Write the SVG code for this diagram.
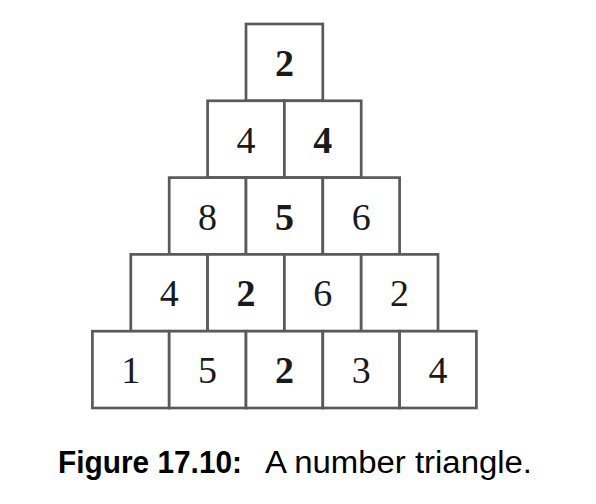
<svg xmlns="http://www.w3.org/2000/svg" width="596" height="504" viewBox="0 0 596 504">
<style>
.box{fill:#fff;stroke:#5a5a5a;stroke-width:2.7}
.n{font-family:"Liberation Serif","DejaVu Serif",serif;font-size:38px;text-anchor:middle;fill:#1a1a1a}
.b{font-weight:bold}
.cap{font-family:"Liberation Sans",Arial,sans-serif;font-size:31px;fill:#000}
</style>
<rect width="596" height="504" fill="#fff"/>
<g id="r0c0"><rect class="box" x="246" y="24" width="76.8" height="76.8"/><text class="n b" x="284.4" y="76">2</text></g>
<g id="r1c0"><rect class="box" x="207.6" y="100.8" width="76.8" height="76.8"/><text class="n" x="246" y="152.8">4</text></g>
<g id="r1c1"><rect class="box" x="284.4" y="100.8" width="76.8" height="76.8"/><text class="n b" x="322.8" y="152.8">4</text></g>
<g id="r2c0"><rect class="box" x="169.2" y="177.6" width="76.8" height="76.8"/><text class="n" x="207.6" y="229.6">8</text></g>
<g id="r2c1"><rect class="box" x="246" y="177.6" width="76.8" height="76.8"/><text class="n b" x="284.4" y="229.6">5</text></g>
<g id="r2c2"><rect class="box" x="322.8" y="177.6" width="76.8" height="76.8"/><text class="n" x="361.2" y="229.6">6</text></g>
<g id="r3c0"><rect class="box" x="130.8" y="254.4" width="76.8" height="76.8"/><text class="n" x="169.2" y="306.4">4</text></g>
<g id="r3c1"><rect class="box" x="207.6" y="254.4" width="76.8" height="76.8"/><text class="n b" x="246" y="306.4">2</text></g>
<g id="r3c2"><rect class="box" x="284.4" y="254.4" width="76.8" height="76.8"/><text class="n" x="322.8" y="306.4">6</text></g>
<g id="r3c3"><rect class="box" x="361.2" y="254.4" width="76.8" height="76.8"/><text class="n" x="399.6" y="306.4">2</text></g>
<g id="r4c0"><rect class="box" x="92.4" y="331.2" width="76.8" height="76.8"/><text class="n" x="130.8" y="383.2">1</text></g>
<g id="r4c1"><rect class="box" x="169.2" y="331.2" width="76.8" height="76.8"/><text class="n" x="207.6" y="383.2">5</text></g>
<g id="r4c2"><rect class="box" x="246" y="331.2" width="76.8" height="76.8"/><text class="n b" x="284.4" y="383.2">2</text></g>
<g id="r4c3"><rect class="box" x="322.8" y="331.2" width="76.8" height="76.8"/><text class="n" x="361.2" y="383.2">3</text></g>
<g id="r4c4"><rect class="box" x="399.6" y="331.2" width="76.8" height="76.8"/><text class="n" x="438" y="383.2">4</text></g>
<g id="caption">
<text class="cap" x="58" y="473" font-weight="bold" textLength="184" lengthAdjust="spacingAndGlyphs">Figure 17.10:</text>
<text class="cap" x="265" y="473" textLength="267" lengthAdjust="spacingAndGlyphs">A number triangle.</text>
</g>
</svg>
